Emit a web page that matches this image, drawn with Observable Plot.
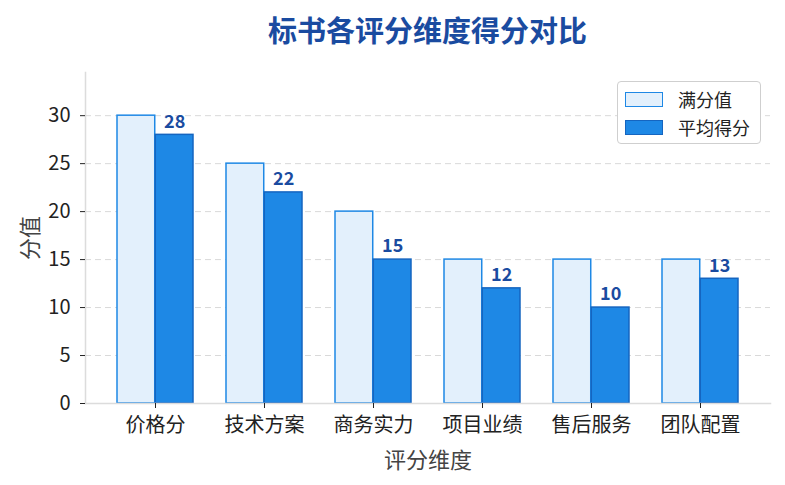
<!DOCTYPE html>
<html><head><meta charset="utf-8">
<script src="https://cdn.jsdelivr.net/npm/d3@7"></script>
<script src="https://cdn.jsdelivr.net/npm/@observablehq/plot@0.6"></script>
<style>
body{margin:0;background:#fff;font-family:"Noto Sans CJK SC","Noto Sans",sans-serif;}
#wrap{position:relative;width:785px;height:485px;}
#title{height:55px;line-height:58px;padding-left:70px;text-align:center;font-size:29px;font-weight:bold;color:#1a4ba0;}
#legend{position:absolute;left:617px;top:81px;width:144px;height:63px;border:1px solid #cfcfcf;border-radius:4px;background:#fff;box-sizing:border-box;font-size:18px;color:#222;}
.li{position:absolute;left:7px;display:flex;align-items:center;}
.sw{width:38px;height:15px;box-sizing:border-box;border:1.5px solid;margin-right:15px;}
</style></head>
<body><div id="wrap"><div id="title">标书各评分维度得分对比</div><div id="chart"></div>
<div id="legend"></div></div>
<script>
const categories = ["价格分","技术方案","商务实力","项目业绩","售后服务","团队配置"];
const seriesNames = ["满分值","平均得分"];
const fullScores = [30,25,20,15,15,15];
const avgScores = [28,22,15,12,10,13];
const yTicks = [0,5,10,15,20,25,30];
const fills = ["#e3f0fc","#1e88e5"];
const strokes = ["#1e88e5","#1565c0"];

const W = 785, H = 430, ML = 85, MR = 15, MT = 17, MB = 82;
const xOpts = {type:"band", domain:categories, paddingInner:0.3, paddingOuter:0.283};
const bw = Plot.scale({x:{...xOpts, range:[ML, W-MR]}}).bandwidth;

const fullData = categories.map((c,i)=>({cat:c, value:fullScores[i]}));
const avgData = categories.map((c,i)=>({cat:c, value:avgScores[i]}));

const plot = Plot.plot({
  width:W, height:H,
  marginLeft:ML, marginRight:MR, marginTop:MT, marginBottom:MB,
  style:{fontFamily:'"Noto Sans CJK SC","Noto Sans",sans-serif', fontSize:"19px", color:"#222"},
  x:{...xOpts, label:null},
  y:{domain:[0,34.5], ticks:yTicks},
  marks:[
    Plot.gridY(yTicks.slice(1),{stroke:"#d9d9d9", strokeOpacity:1, strokeDasharray:"6,4"}),
    Plot.barY(fullData,{x:"cat", y:"value", insetRight:bw/2, fill:fills[0], stroke:strokes[0], strokeWidth:1.5}),
    Plot.barY(avgData,{x:"cat", y:"value", insetLeft:bw/2, fill:fills[1], stroke:strokes[1], strokeWidth:1.5}),
    Plot.text(avgData,{x:"cat", y:"value", text:d=>String(d.value), dx:bw/4, dy:-13, fontWeight:"bold", fontSize:18, fill:"#1a4ba0"}),
    Plot.frame({anchor:"left", stroke:"#dcdcdc", strokeWidth:1.5}),
    Plot.frame({anchor:"bottom", stroke:"#dcdcdc", strokeWidth:1.5}),
    Plot.axisY({ticks:yTicks, tickSize:5, tickPadding:10, fontSize:20, label:"分值", labelAnchor:"center", labelArrow:"none", labelOffset:63}),
    Plot.axisX({tickSize:5, tickPadding:9, fontSize:20, label:"评分维度", labelAnchor:"center", labelArrow:"none", labelOffset:64})
  ]
});
document.getElementById("chart").appendChild(plot);
plot.querySelectorAll("text").forEach(t=>{
  if(t.textContent==="分值"||t.textContent==="评分维度"){t.setAttribute("font-size","22");t.setAttribute("fill","#444");}
});
const lg = document.getElementById("legend");
seriesNames.forEach((s,i)=>{
  const el=document.createElement("div");el.className="li";el.style.top=(4+i*28)+"px";
  el.innerHTML=`<div class="sw" style="background:${fills[i]};border-color:${strokes[i]}"></div><span>${s}</span>`;
  lg.appendChild(el);
});
</script></body></html>
